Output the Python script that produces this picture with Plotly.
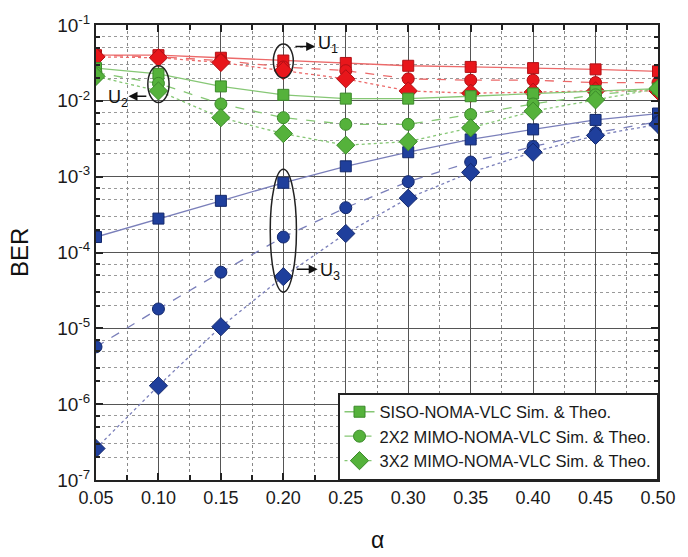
import numpy as np
import plotly.graph_objects as go

alpha = [0.05, 0.10, 0.15, 0.20, 0.25, 0.30, 0.35, 0.40, 0.45, 0.50]

# U1 (red)
u1_siso = [0.040, 0.040, 0.037, 0.034, 0.0316, 0.029, 0.028, 0.027, 0.026, 0.0245]
u1_mimo22 = [0.040, 0.038, 0.034, 0.028, 0.025, 0.0195, 0.0187, 0.0187, 0.0174, 0.0174]
u1_mimo32 = [0.038, 0.037, 0.032, 0.025, 0.0195, 0.0135, 0.0126, 0.013, 0.0135, 0.0135]

# U2 (green)
u2_siso = [0.027, 0.0227, 0.0155, 0.012, 0.0107, 0.0107, 0.0115, 0.0125, 0.0135, 0.0145]
u2_mimo22 = [0.0235, 0.017, 0.0091, 0.006, 0.0049, 0.0049, 0.0066, 0.0091, 0.012, 0.0145]
u2_mimo32 = [0.021, 0.0135, 0.006, 0.0037, 0.0026, 0.0029, 0.0044, 0.0073, 0.0103, 0.0145]

# U3 (blue)
u3_siso = [1.6e-4, 2.8e-4, 4.8e-4, 8.3e-4, 1.37e-3, 2.1e-3, 3.1e-3, 4.2e-3, 5.6e-3, 6.8e-3]
u3_mimo22 = [5.7e-6, 1.8e-5, 5.5e-5, 1.6e-4, 3.9e-4, 8.6e-4, 1.56e-3, 2.5e-3, 3.8e-3, 5.3e-3]
u3_mimo32 = [2.6e-7, 1.75e-6, 1.05e-5, 4.8e-5, 1.78e-4, 5.2e-4, 1.14e-3, 2.1e-3, 3.5e-3, 4.9e-3]

legend_names = ["SISO-NOMA-VLC Sim. & Theo.",
                "2X2 MIMO-NOMA-VLC Sim. & Theo.",
                "3X2 MIMO-NOMA-VLC Sim. & Theo."]
x_ticks = [0.05, 0.10, 0.15, 0.20, 0.25, 0.30, 0.35, 0.40, 0.45, 0.50]
y_ticks = [1e-7, 1e-6, 1e-5, 1e-4, 1e-3, 1e-2, 1e-1]
y_ticktext = ["10<sup>-7</sup>", "10<sup>-6</sup>", "10<sup>-5</sup>", "10<sup>-4</sup>",
              "10<sup>-3</sup>", "10<sup>-2</sup>", "10<sup>-1</sup>"]

FONT = "Arial, Liberation Sans, sans-serif"

users = [
    ("U1", [u1_siso, u1_mimo22, u1_mimo32], "#e8161b", "#b01015", "#ec6a6a", False),
    ("U3", [u3_siso, u3_mimo22, u3_mimo32], "#1f3f9c", "#13286c", "#7a7fba", False),
    ("U2", [u2_siso, u2_mimo22, u2_mimo32], "#55b23b", "#3b8a2a", "#86c775", True),
]
symbols = ["square", "circle", "diamond"]
sizes = [11, 12, 14]
dashes = ["solid", "dash", "dot"]

fig = go.Figure()
for uname, series, mcol, mline, lcol, show in users:
    for i, ys in enumerate(series):
        fig.add_trace(go.Scatter(
            x=alpha, y=ys, mode="lines+markers",
            name=legend_names[i], showlegend=show,
            line=dict(color=lcol, width=1.3, dash=dashes[i]),
            marker=dict(symbol=symbols[i], size=sizes[i], color=mcol,
                        line=dict(color=mline, width=1)),
        ))

minor_y = [m * 10.0 ** d for d in range(-7, -1) for m in (2, 3, 5, 7)]

fig.update_layout(
    width=688, height=557,
    margin=dict(l=96, r=20, t=20, b=77),
    paper_bgcolor="white", plot_bgcolor="white",
    font=dict(family=FONT, color="#1a1a1a"),
    legend=dict(x=1, y=0, xanchor="right", yanchor="bottom",
                bgcolor="white", bordercolor="#222", borderwidth=1.5,
                font=dict(size=16.5, family=FONT, color="#1a1a1a"),
                tracegroupgap=0, itemsizing="trace", itemwidth=30),
    xaxis=dict(
        range=[0.05, 0.50], tickvals=x_ticks, tickformat=".2f",
        tickfont=dict(size=18, family=FONT),
        showline=True, linecolor="#222", linewidth=2, mirror="ticks",
        ticks="inside", ticklen=7, tickcolor="#222", tickwidth=1.5,
        showgrid=True, gridcolor="#555", gridwidth=1.4,
        zeroline=False,
        minor=dict(tickvals=[0.075, 0.125, 0.175, 0.225, 0.275, 0.325, 0.375, 0.425, 0.475],
                   showgrid=True, gridcolor="#888", griddash="dot", gridwidth=1.4,
                   ticks="inside", ticklen=5, tickcolor="#222"),
    ),
    yaxis=dict(
        type="log", range=[-7, -1], tickvals=y_ticks, ticktext=y_ticktext,
        tickfont=dict(size=19, family=FONT),
        showline=True, linecolor="#222", linewidth=2, mirror="ticks",
        ticks="inside", ticklen=7, tickcolor="#222", tickwidth=1.5,
        showgrid=True, gridcolor="#555", gridwidth=1.4,
        zeroline=False,
        minor=dict(tickvals=minor_y, showgrid=True, gridcolor="#999",
                   griddash="dot", gridwidth=1.3,
                   ticks="inside", ticklen=4, tickcolor="#222"),
    ),
)

# Ellipses grouping the users
ell = dict(type="circle", xref="x", yref="y", line=dict(color="#222", width=1.5),
           fillcolor="rgba(0,0,0,0)", layer="above")
fig.add_shape(**ell, x0=0.192, x1=0.208, y0=0.020, y1=0.056)
fig.add_shape(**ell, x0=0.0915, x1=0.1085, y0=0.0095, y1=0.029)
fig.add_shape(**ell, x0=0.1895, x1=0.2105, y0=3.0e-5, y1=1.25e-3)

# Arrows and labels
def arrow(xt, yt, xh, yh):
    fig.add_annotation(x=xh, y=np.log10(yh), ax=xt, ay=np.log10(yt),
                       xref="x", yref="y", axref="x", ayref="y",
                       text="", showarrow=True, arrowhead=2, arrowsize=1.2,
                       arrowwidth=1.5, arrowcolor="#111")

def label(x, y, sub):
    fig.add_annotation(x=x, y=np.log10(y), xref="x", yref="y",
                       text=f"U<sub>{sub}</sub>", showarrow=False,
                       font=dict(size=18, family=FONT, color="#111"),
                       xanchor="center", yanchor="middle")

arrow(0.2085, 0.052, 0.2255, 0.052)
label(0.2355, 0.055, 1)
arrow(0.0915, 0.0115, 0.0760, 0.0115)
label(0.0675, 0.0108, 2)
arrow(0.2095, 6.0e-5, 0.2275, 6.0e-5)
label(0.2375, 5.6e-5, 3)

fig.add_annotation(x=-0.136, y=0.5, xref="paper", yref="paper", text="BER",
                   textangle=-90, showarrow=False, xanchor="center", yanchor="middle",
                   font=dict(size=24, family=FONT, color="#111"))
fig.add_annotation(x=0.5, y=-0.132, xref="paper", yref="paper", text="α",
                   showarrow=False, xanchor="center", yanchor="middle",
                   font=dict(size=23, family=FONT, color="#111"))

fig.write_html("out.html")
